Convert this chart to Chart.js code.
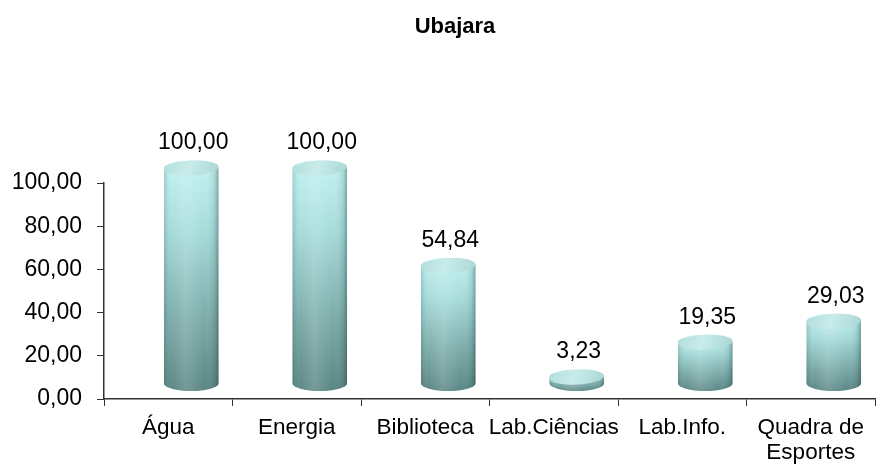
<!DOCTYPE html>
<html>
<head>
<meta charset="utf-8">
<script src="https://cdn.jsdelivr.net/npm/chart.js@4"></script>
<style>
  html, body { margin: 0; padding: 0; background: #fff; }
  #wrap { width: 876px; height: 465px; }
</style>
</head>
<body>
<div id="wrap"><canvas id="ubajaraChart" width="876" height="465"></canvas></div>
<script>
const chartTitle = "Ubajara";
const categories = ["Água", "Energia", "Biblioteca", "Lab.Ciências", "Lab.Info.", ["Quadra de", "Esportes"]];
const values = [100.00, 100.00, 54.84, 3.23, 19.35, 29.03];
const yTicks = [0, 20, 40, 60, 80, 100];

const FONT = "'Liberation Sans', Arial, sans-serif";
const fmt = (v) => v.toFixed(2).replace(".", ",");

// 3D look: the cylinders sit a little right of and above the flat axes
const DEPTH_X = 23;
const DEPTH_Y = 15;

const cylinderPlugin = {
  id: "cylinders",
  afterDatasetsDraw(chart) {
    const ctx = chart.ctx;
    const meta = chart.getDatasetMeta(0);
    meta.data.forEach((bar, i) => {
      const cx = bar.x + DEPTH_X;
      const rx = bar.width / 2 - 1;
      const ry = 7.5;
      const yt = bar.y - DEPTH_Y;
      const yb = bar.base - DEPTH_Y;

      ctx.save();
      // body
      ctx.beginPath();
      ctx.moveTo(cx - rx, yt);
      ctx.lineTo(cx - rx, yb);
      ctx.ellipse(cx, yb, rx, ry, 0, Math.PI, 0, true);
      ctx.lineTo(cx + rx, yt);
      ctx.ellipse(cx, yt, rx, ry, 0, 0, Math.PI, true);
      ctx.closePath();
      const vg = ctx.createLinearGradient(0, yt - ry, 0, yb + ry);
      vg.addColorStop(0, "#c3f3f2");
      vg.addColorStop(0.3, "#a6dcdb");
      vg.addColorStop(0.7, "#7aaaa8");
      vg.addColorStop(1, "#5a8684");
      ctx.fillStyle = vg;
      ctx.fill();
      const hg = ctx.createLinearGradient(cx - rx, 0, cx + rx, 0);
      hg.addColorStop(0, "rgba(20,60,60,0.18)");
      hg.addColorStop(0.15, "rgba(255,255,255,0.02)");
      hg.addColorStop(0.4, "rgba(255,255,255,0.16)");
      hg.addColorStop(0.75, "rgba(255,255,255,0.0)");
      hg.addColorStop(0.93, "rgba(20,50,50,0.12)");
      hg.addColorStop(1, "rgba(10,40,40,0.35)");
      ctx.fillStyle = hg;
      ctx.fill();

      // top cap
      ctx.beginPath();
      ctx.ellipse(cx, yt, rx, ry, -0.05, 0, Math.PI * 2);
      const tg = ctx.createLinearGradient(cx - rx, yt - ry, cx + rx, yt + ry);
      tg.addColorStop(0, "#b2dedb");
      tg.addColorStop(0.45, "#c8ecea");
      tg.addColorStop(1, "#a9d6d4");
      ctx.fillStyle = tg;
      ctx.fill();
      ctx.restore();

      // value label
      ctx.save();
      ctx.font = "23px " + FONT;
      ctx.fillStyle = "#000";
      ctx.textAlign = "center";
      ctx.textBaseline = "middle";
      ctx.fillText(fmt(values[i]), cx + 2, bar.y - 40);
      ctx.restore();
    });
  }
};

const titlePlugin = {
  id: "offsetTitle",
  afterDraw(chart) {
    const ctx = chart.ctx;
    ctx.save();
    ctx.font = "bold 22px " + FONT;
    ctx.fillStyle = "#000";
    ctx.textAlign = "center";
    ctx.textBaseline = "middle";
    ctx.fillText(chartTitle, 455, 27);
    ctx.restore();
  }
};

new Chart(document.getElementById("ubajaraChart"), {
  type: "bar",
  data: {
    labels: categories,
    datasets: [{
      label: chartTitle,
      data: values,
      backgroundColor: "rgba(0,0,0,0)",
      borderWidth: 0,
      barPercentage: 0.44,
      categoryPercentage: 1
    }]
  },
  options: {
    responsive: false,
    animation: false,
    layout: { padding: { top: 183, right: 1, left: 0, bottom: 0 } },
    plugins: {
      legend: { display: false },
      title: { display: false },
      tooltip: { enabled: false }
    },
    scales: {
      x: {
        afterFit: (scale) => { scale.height = 66; },
        grid: { offset: true, drawOnChartArea: false, drawTicks: true, tickLength: 7, color: "#333" },
        border: { color: "#333", width: 1.5 },
        ticks: { color: "#000", font: { family: FONT, size: 22.5, lineHeight: 1.08 }, padding: 10, maxRotation: 0, autoSkip: false }
      },
      y: {
        min: 0,
        max: 100,
        afterFit: (scale) => { scale.width = 104; },
        afterBuildTicks: (scale) => { scale.ticks = yTicks.map((v) => ({ value: v })); },
        grid: { drawOnChartArea: false, drawTicks: true, tickLength: 7, color: "#333" },
        border: { color: "#333", width: 1.5 },
        ticks: { color: "#000", font: { family: FONT, size: 23 }, padding: 15, callback: (v) => fmt(v) }
      }
    }
  },
  plugins: [cylinderPlugin, titlePlugin]
});
</script>
</body>
</html>
